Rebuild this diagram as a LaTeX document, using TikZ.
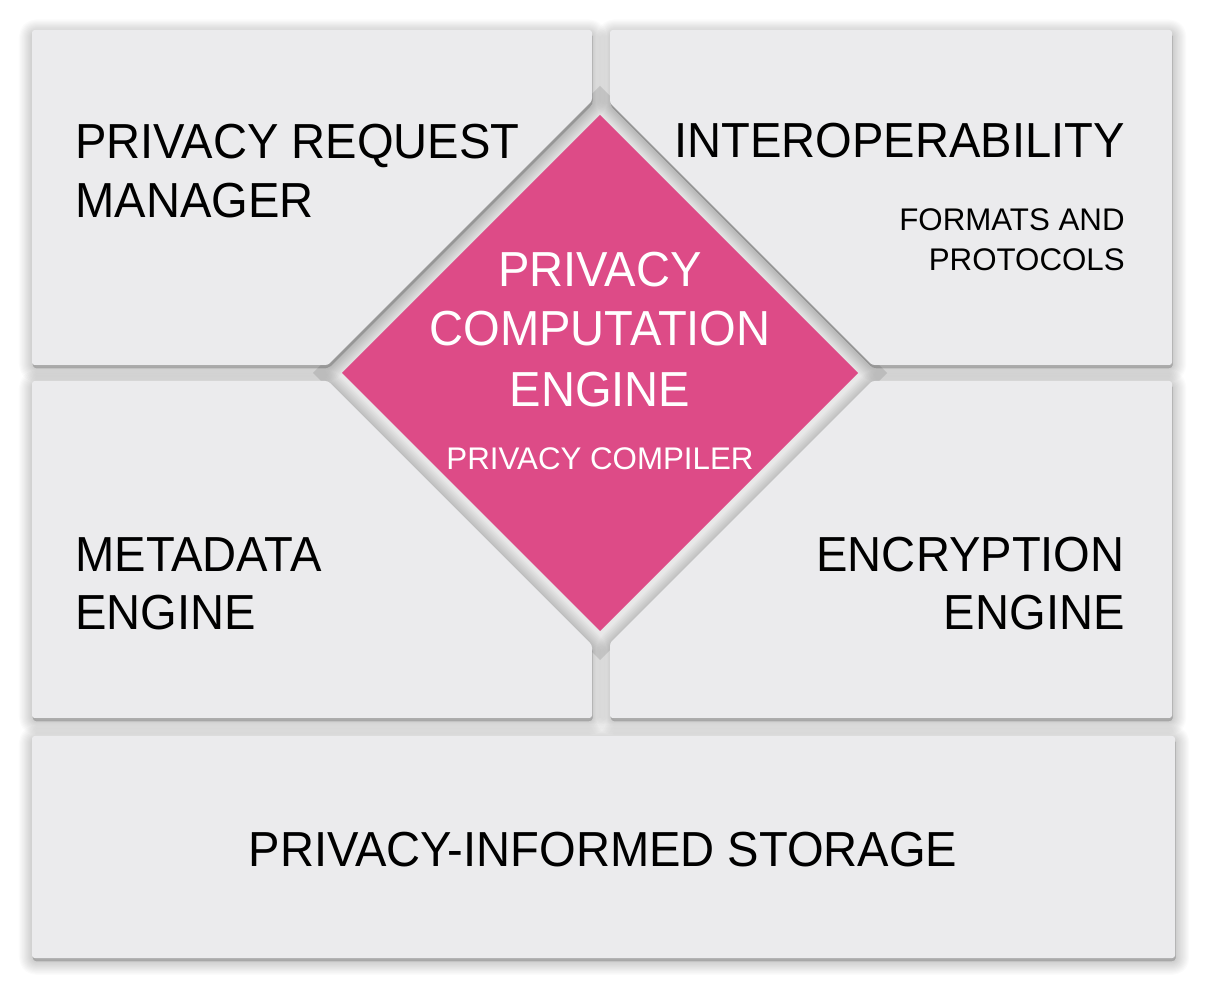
\documentclass[tikz,border=0pt]{standalone}
\usepackage{fontspec}
\setmainfont{Liberation Sans}[FakeStretch=0.958]
\newfontfamily\smallfont{Liberation Sans}
\definecolor{panel}{HTML}{EBEBED}
\definecolor{pinkfill}{HTML}{DD4B87}
\definecolor{gapgray}{HTML}{E8E8E8}
\def\pTL{(32,30) -- (592,30) -- (592,101) -- (328,365) -- (32,365) -- cycle}
\def\pTR{(610,30) -- (1172,30) -- (1172,365) -- (872,365) -- (610,103) -- cycle}
\def\pBL{(32,381) -- (328,381) -- (592,645) -- (592,718) -- (32,718) -- cycle}
\def\pBR{(872,381) -- (1172,381) -- (1172,718) -- (610,718) -- (610,643) -- cycle}
\def\pST{(32,736) -- (1175,736) -- (1175,958) -- (32,958) -- cycle}
\tikzset{
  shadowlayer/.style={fill=black, draw=black, opacity=0.016, line join=round, rounded corners=2pt},
  panelbox/.style={fill=panel, rounded corners=1.5pt},
  biglabel/.style={font=\fontsize{28}{33}\selectfont, inner sep=0pt, text=black},
  smalllabel/.style={font=\smallfont\fontsize{17.8}{21}\selectfont, inner sep=0pt, text=black},
}
\begin{document}
\begin{tikzpicture}[x=0.02cm, y=-0.02cm]
\useasboundingbox (0,0) rectangle (1214,999);
\fill[white] (0,0) rectangle (1214,999);
% gap diamond behind panels
\fill[gapgray] (600,86) -- (887,373) -- (600,660) -- (313,373) -- cycle;
% soft panel shadows
\foreach \w in {1.3,2.6,...,16} {
  \foreach \p in {\pTL,\pTR,\pBL,\pBR,\pST} {
    \path[shadowlayer, line width=\w pt, yshift=-1.8pt, xshift=0.4pt] \p;
  }
}
% panel fills
\foreach \p in {\pTL,\pTR,\pBL,\pBR,\pST} {
  \path[panelbox] \p;
}
% central diamond
\fill[pinkfill] (600,115) -- (858,373) -- (600,631) -- (342,373) -- cycle;
% labels
\node[biglabel, anchor=base west] (prmA) at (75,159) {PRIVACY REQUEST};
\node[biglabel, anchor=base west] (prmB) at (75,218) {MANAGER};
\node[biglabel, anchor=base east] (intA) at (1125,158) {INTEROPERABILITY};
\node[smalllabel, anchor=base east] (fmtA) at (1125,231) {FORMATS AND};
\node[smalllabel, anchor=base east] (fmtB) at (1125,271) {PROTOCOLS};
\node[biglabel, anchor=base west] (mdA) at (75,572) {METADATA};
\node[biglabel, anchor=base west] (mdB) at (75,630) {ENGINE};
\node[biglabel, anchor=base east] (encA) at (1125,572) {ENCRYPTION};
\node[biglabel, anchor=base east] (encB) at (1125,630) {ENGINE};
\node[biglabel, text=white, anchor=base] (pceA) at (600,287) {PRIVACY};
\node[biglabel, text=white, anchor=base] (pceB) at (600,346) {COMPUTATION};
\node[biglabel, text=white, anchor=base] (pceC) at (600,407) {ENGINE};
\node[smalllabel, text=white, anchor=base] (pcc) at (600,470) {PRIVACY COMPILER};
\node[biglabel, anchor=base] (pis) at (603,867) {PRIVACY-INFORMED STORAGE};
\end{tikzpicture}
\end{document}
